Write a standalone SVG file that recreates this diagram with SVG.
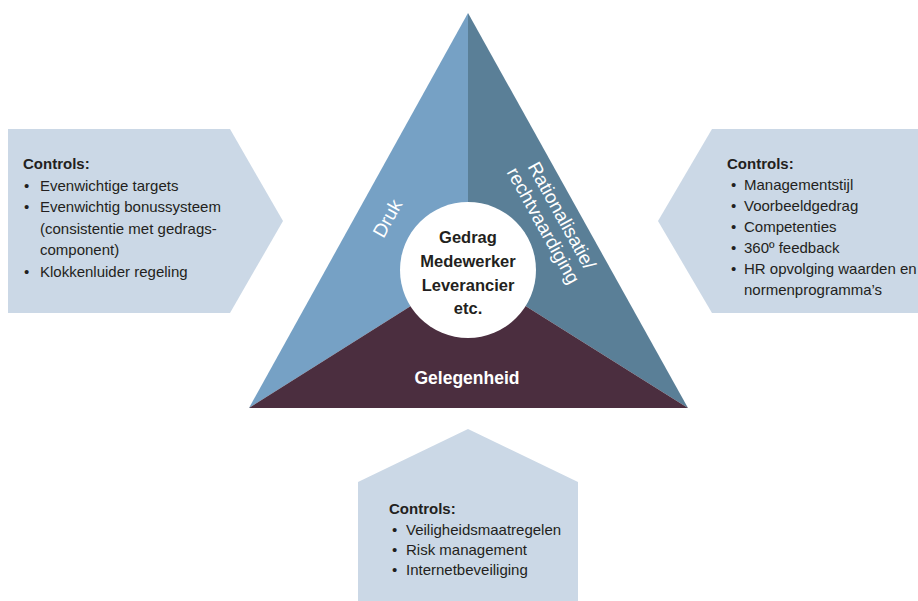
<svg xmlns="http://www.w3.org/2000/svg" width="918" height="601" viewBox="0 0 918 601">
<style>
.box{fill:#cbd8e6}
.t{font-family:"Liberation Sans",Arial,sans-serif;font-size:15px;fill:#231f20}
.h{font-family:"Liberation Sans",Arial,sans-serif;font-size:15px;font-weight:bold;fill:#231f20}
.c{font-family:"Liberation Sans",Arial,sans-serif;font-size:16.5px;font-weight:bold;fill:#231f20;text-anchor:middle}
.w{font-family:"Liberation Sans",Arial,sans-serif;font-size:19px;fill:#ffffff;text-anchor:middle}
.wb{font-family:"Liberation Sans",Arial,sans-serif;font-size:17.5px;font-weight:bold;fill:#ffffff;text-anchor:middle}
</style>
<rect width="918" height="601" fill="#ffffff"/>
<g id="controls-druk">
<polygon class="box" points="8,129 230,129 283,221 230,313 8,313"/>
<text class="h" x="23" y="169">Controls:</text>
<text class="t" x="24" y="190.5">•</text><text class="t" x="40" y="190.5">Evenwichtige targets</text>
<text class="t" x="24" y="212">•</text><text class="t" x="40" y="212">Evenwichtig bonussysteem</text>
<text class="t" x="40" y="233.5">(consistentie met gedrags-</text>
<text class="t" x="40" y="255">component)</text>
<text class="t" x="24" y="276.5">•</text><text class="t" x="40" y="276.5">Klokkenluider regeling</text>
</g>
<g id="controls-rationalisatie">
<polygon class="box" points="712,129 918,129 918,313 712,313 658,221"/>
<text class="h" x="727" y="169">Controls:</text>
<text class="t" x="731" y="190">•</text><text class="t" x="744" y="190">Managementstijl</text>
<text class="t" x="731" y="211">•</text><text class="t" x="744" y="211">Voorbeeldgedrag</text>
<text class="t" x="731" y="232">•</text><text class="t" x="744" y="232">Competenties</text>
<text class="t" x="731" y="253">•</text><text class="t" x="744" y="253">360º feedback</text>
<text class="t" x="731" y="274">•</text><text class="t" x="744" y="274">HR opvolging waarden en</text>
<text class="t" x="744" y="295">normenprogramma’s</text>
</g>
<g id="controls-gelegenheid">
<polygon class="box" points="468,429 578,482 578,601 358,601 358,482"/>
<text class="h" x="389" y="514">Controls:</text>
<text class="t" x="392" y="535">•</text><text class="t" x="406" y="535">Veiligheidsmaatregelen</text>
<text class="t" x="392" y="555">•</text><text class="t" x="406" y="555">Risk management</text>
<text class="t" x="392" y="575">•</text><text class="t" x="406" y="575">Internetbeveiliging</text>
</g>
<g id="triangle">
<polygon points="468,13 468,270 249,408" fill="#76a1c5"/>
<polygon points="468,13 688,408 468,270" fill="#5a7f97"/>
<polygon points="249,408 468,270 688,408" fill="#4b2e3f"/>
<text class="w" transform="translate(387,218) rotate(-61)" y="7">Druk</text>
<g transform="translate(550,222) rotate(61)">
<text class="w" x="0" y="-7">Rationalisatie/</text>
<text class="w" x="0" y="14">rechtvaardiging</text>
</g>
<text class="wb" x="467" y="384">Gelegenheid</text>
</g>
<g id="center">
<circle cx="468" cy="270" r="68" fill="#ffffff"/>
<text class="c" x="468" y="243">Gedrag</text>
<text class="c" x="468" y="267">Medewerker</text>
<text class="c" x="468" y="291">Leverancier</text>
<text class="c" x="468" y="314">etc.</text>
</g>
<g id="connectors"></g>
</svg>
